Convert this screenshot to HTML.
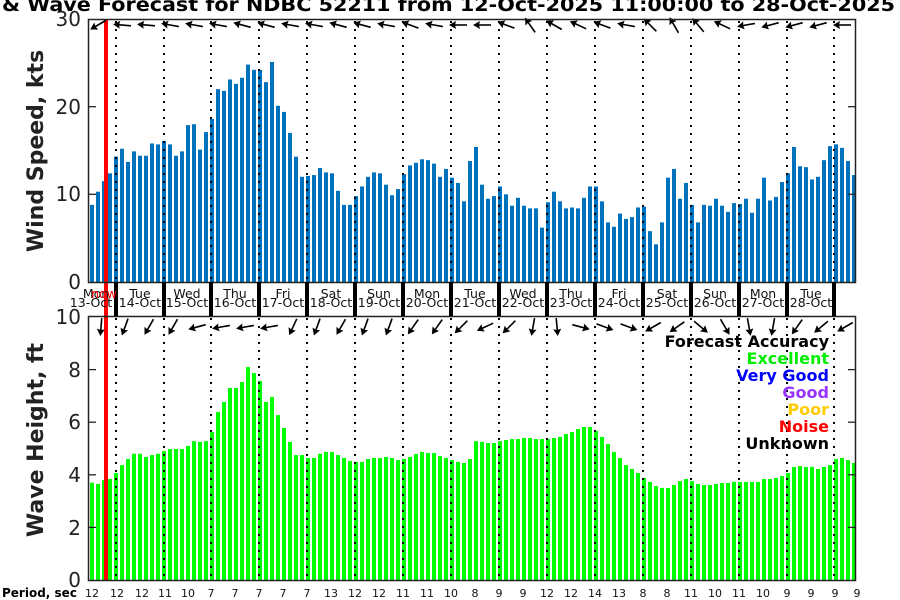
<!DOCTYPE html>
<html><head><meta charset="utf-8"><style>
html,body{margin:0;padding:0;background:#fff;}
svg{display:block;font-family:"DejaVu Sans","Liberation Sans",sans-serif;}
</style></head><body>
<svg id="s" width="900" height="600" viewBox="0 0 900 600" xmlns="http://www.w3.org/2000/svg">
<rect width="900" height="600" fill="#fff"/>
<g id="bars"></g>
<g id="dots" stroke="#000" stroke-width="2" stroke-dasharray="2,6"></g>
<rect x="104" y="19" width="4" height="561" fill="#ff0000"/>
<g id="arrows"></g>
<rect x="88.5" y="19.5" width="767" height="263" fill="none" stroke="#222" stroke-width="1.5"/>
<rect x="88.5" y="316.5" width="767" height="264" fill="none" stroke="#222" stroke-width="1.5"/>
<g id="thick" fill="#000"></g>
<g stroke="#222" stroke-width="1.3">
<line x1="89" y1="194.3" x2="96" y2="194.3"/><line x1="89" y1="106.7" x2="96" y2="106.7"/>
<line x1="848" y1="194.3" x2="855" y2="194.3"/><line x1="848" y1="106.7" x2="855" y2="106.7"/>
<line x1="89" y1="527.4" x2="96" y2="527.4"/><line x1="89" y1="474.8" x2="96" y2="474.8"/><line x1="89" y1="422.2" x2="96" y2="422.2"/><line x1="89" y1="369.6" x2="96" y2="369.6"/>
<line x1="848" y1="527.4" x2="855" y2="527.4"/><line x1="848" y1="474.8" x2="855" y2="474.8"/><line x1="848" y1="422.2" x2="855" y2="422.2"/><line x1="848" y1="369.6" x2="855" y2="369.6"/>
</g>
<text x="2" y="11" font-size="19" font-weight="bold" fill="#000" textLength="893" lengthAdjust="spacingAndGlyphs">&amp; Wave Forecast for NDBC 52211 from 12-Oct-2025 11:00:00 to 28-Oct-2025</text>
<g font-size="20" fill="#222" text-anchor="end">
<text x="81" y="26">30</text><text x="81" y="114">20</text><text x="81" y="201">10</text><text x="81" y="289">0</text>
<text x="81" y="324">10</text><text x="81" y="377">8</text><text x="81" y="429">6</text><text x="81" y="482">4</text><text x="81" y="535">2</text><text x="81" y="587">0</text>
</g>
<text transform="translate(43,151) rotate(-90)" text-anchor="middle" font-size="22" font-weight="bold" fill="#222">Wind Speed, kts</text>
<text transform="translate(43,440) rotate(-90)" text-anchor="middle" font-size="22" font-weight="bold" fill="#222">Wave Height, ft</text>
<g font-size="12.5" fill="#111" text-anchor="middle">
<text x="96" y="298">Mon</text><text x="91" y="307">13-Oct</text>
<text x="140" y="298">Tue</text><text x="140" y="307">14-Oct</text>
<text x="187" y="298">Wed</text><text x="187" y="307">15-Oct</text>
<text x="235" y="298">Thu</text><text x="235" y="307">16-Oct</text>
<text x="283" y="298">Fri</text><text x="283" y="307">17-Oct</text>
<text x="331" y="298">Sat</text><text x="331" y="307">18-Oct</text>
<text x="379" y="298">Sun</text><text x="379" y="307">19-Oct</text>
<text x="427" y="298">Mon</text><text x="427" y="307">20-Oct</text>
<text x="475" y="298">Tue</text><text x="475" y="307">21-Oct</text>
<text x="523" y="298">Wed</text><text x="523" y="307">22-Oct</text>
<text x="571" y="298">Thu</text><text x="571" y="307">23-Oct</text>
<text x="619" y="298">Fri</text><text x="619" y="307">24-Oct</text>
<text x="667" y="298">Sat</text><text x="667" y="307">25-Oct</text>
<text x="715" y="298">Sun</text><text x="715" y="307">26-Oct</text>
<text x="763" y="298">Mon</text><text x="763" y="307">27-Oct</text>
<text x="811" y="298">Tue</text><text x="811" y="307">28-Oct</text>
<text x="104" y="298" fill="#ff0000">now</text>
</g>
<g font-size="16" font-weight="bold" text-anchor="end">
<text x="829" y="347" fill="#000">Forecast Accuracy</text>
<text x="829" y="364" fill="#00ee00">Excellent</text>
<text x="829" y="381" fill="#0000ff">Very Good</text>
<text x="829" y="398" fill="#9933ff">Good</text>
<text x="829" y="415" fill="#ffcc00">Poor</text>
<text x="829" y="432" fill="#ff0000">Noise</text>
<text x="829" y="449" fill="#000">Unknown</text>
</g>
<text x="2" y="597" font-size="12" font-weight="bold" fill="#000">Period, sec</text>
<g font-size="11" fill="#111" text-anchor="middle">
<text x="92" y="597">12</text><text x="117" y="597">12</text><text x="142" y="597">12</text><text x="165" y="597">11</text><text x="188" y="597">10</text><text x="211" y="597">7</text><text x="235" y="597">7</text><text x="259" y="597">7</text><text x="283" y="597">7</text><text x="307" y="597">7</text><text x="331" y="597">13</text><text x="355" y="597">12</text><text x="379" y="597">12</text><text x="403" y="597">11</text><text x="427" y="597">11</text><text x="451" y="597">10</text><text x="475" y="597">8</text><text x="499" y="597">9</text><text x="523" y="597">9</text><text x="547" y="597">12</text><text x="571" y="597">12</text><text x="595" y="597">14</text><text x="619" y="597">13</text><text x="643" y="597">8</text><text x="667" y="597">8</text><text x="691" y="597">11</text><text x="715" y="597">10</text><text x="739" y="597">11</text><text x="763" y="597">10</text><text x="787" y="597">9</text><text x="811" y="597">9</text><text x="835" y="597">9</text><text x="857" y="597">9</text>
</g>
</svg>
<script>
var NS="http://www.w3.org/2000/svg";
function el(t,a,p){var e=document.createElementNS(NS,t);for(var k in a)e.setAttribute(k,a[k]);p.appendChild(e);return e;}
var wind=[8.8,10.3,11.5,12.4,14.3,15.2,13.7,14.9,14.4,14.4,15.8,15.7,16.1,15.7,14.4,14.9,17.9,18.0,15.1,17.1,18.6,22.0,21.8,23.1,22.6,23.3,24.8,24.2,24.2,22.8,25.1,20.1,19.4,17.0,14.3,12.0,12.1,12.2,13.0,12.5,12.4,10.4,8.8,8.8,9.8,10.9,12.0,12.5,12.4,11.1,9.9,10.6,12.3,13.3,13.6,14.0,13.9,13.5,12.0,12.9,11.9,11.3,9.2,13.8,15.4,11.1,9.5,9.8,10.9,10.0,8.7,9.6,8.7,8.4,8.4,6.2,9.1,10.3,9.2,8.4,8.5,8.4,9.6,10.9,10.9,9.2,6.8,6.3,7.8,7.2,7.4,8.5,8.6,5.8,4.3,6.8,11.9,12.9,9.5,11.3,8.8,6.8,8.8,8.7,9.5,8.7,8.0,9.0,8.9,9.5,7.9,9.5,11.9,9.3,9.7,11.4,12.4,15.4,13.2,13.1,11.7,12.0,13.9,15.5,15.7,15.3,13.8,12.2];
var wave=[3.7,3.65,3.8,3.84,4.07,4.37,4.6,4.8,4.8,4.68,4.75,4.8,4.9,4.98,4.98,4.98,5.1,5.28,5.25,5.28,5.63,6.39,6.77,7.3,7.3,7.53,8.1,7.87,7.57,6.77,6.96,6.27,5.78,5.25,4.75,4.75,4.64,4.64,4.8,4.87,4.87,4.75,4.64,4.52,4.49,4.49,4.6,4.64,4.64,4.68,4.64,4.56,4.6,4.68,4.79,4.87,4.83,4.83,4.71,4.64,4.56,4.49,4.45,4.6,5.28,5.25,5.21,5.21,5.28,5.32,5.36,5.36,5.4,5.4,5.36,5.36,5.36,5.4,5.44,5.55,5.63,5.74,5.82,5.82,5.67,5.44,5.17,4.87,4.64,4.37,4.22,4.07,3.88,3.73,3.57,3.5,3.5,3.61,3.76,3.84,3.76,3.65,3.61,3.61,3.65,3.69,3.69,3.73,3.73,3.73,3.73,3.73,3.84,3.84,3.88,3.95,4.07,4.3,4.33,4.3,4.3,4.22,4.3,4.37,4.6,4.64,4.56,4.45];
var b=document.getElementById("bars");
for(var i=0;i<128;i++){var x=90+6*i;
var h=wind[i]*263/30;el("rect",{x:x,y:282-h,width:4,height:h,fill:"#0072bd"},b);
var h2=wave[i]*26.3;el("rect",{x:x,y:580-h2,width:4,height:h2,fill:"#00ff00"},b);}
var d=document.getElementById("dots"),th=document.getElementById("thick");
var dl=[116,164,211,259,307,355,403,451,499,547,595,643,691,739,787,834];
dl.forEach(function(x){el("line",{x1:x,y1:21,x2:x,y2:282},d);el("line",{x1:x,y1:318,x2:x,y2:580},d);el("rect",{x:x-2,y:282,width:4,height:34},th);});
var ta=[150,185,185,190,190,190,195,195,190,190,195,195,190,200,190,180,180,200,235,210,205,200,190,225,240,230,205,170,165,165,165,180];
var ba=[95,110,120,120,165,170,170,170,115,110,120,110,110,125,125,135,155,135,100,85,15,20,20,150,145,40,60,80,100,125,140,150];
var A=document.getElementById("arrows");
function arrow(cx,cy,ang){var g=el("g",{transform:"translate("+cx+","+cy+") rotate("+ang+")"},A);
el("line",{x1:-9,y1:0,x2:5,y2:0,stroke:"#000","stroke-width":1.6},g);
el("polygon",{points:"9,0 2,-4 3,0 2,4",fill:"#000"},g);}
for(var k=0;k<32;k++){arrow(98+24*k,25,ta[k]);arrow(101+24*k,327,ba[k]);}
</script>
</body></html>
